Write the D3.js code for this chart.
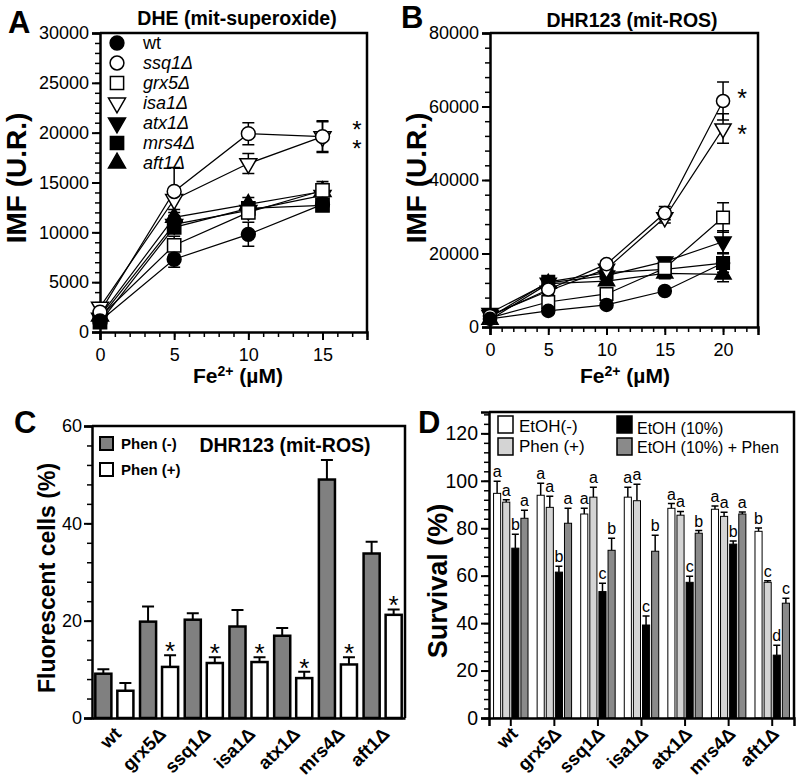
<!DOCTYPE html>
<html><head><meta charset="utf-8">
<script src="https://cdn.jsdelivr.net/npm/d3@7"></script>
<style>body{margin:0;background:#fff}svg{display:block}</style>
</head><body><svg id="c" width="797" height="779"></svg>
<script>
// ---------- DATA ----------
const strainsA = ["wt","ssq1Δ","grx5Δ","isa1Δ","atx1Δ","mrs4Δ","aft1Δ"];
// Panel A: DHE (mit-superoxide), Fe2+ (µM)
const feA = [0,5,10,15];
const dheWt   = [1100, 7300, 9800, 12800];
const dheSsq1 = [2000, 14100, 19900, 19600];
const dheGrx5 = [1500, 8700, 12000, 14200];
const dheIsa1 = [2500, 13300, 16900, 19600];
const dheAtx1 = [1400, 10800, 12200, 13700];
const dheMrs4 = [1000, 10500, 12400, 12700];
const dheAft1 = [1600, 11500, 12800, 14100];
const dheWtErr   = [300, 800, 1200, 500];
const dheSsq1Err = [400, 2400, 1100, 1600];
const dheGrx5Err = [300, 900, 600, 900];
const dheIsa1Err = [400, 1000, 1000, 1500];
const dheAtx1Err = [300, 700, 600, 700];
const dheMrs4Err = [300, 600, 500, 400];
const dheAft1Err = [300, 500, 700, 800];
const yTicksA = [0,5000,10000,15000,20000,25000,30000];
const xTicksA = [0,5,10,15];

// Panel B: DHR123 (mit-ROS)
const feB = [0,5,10,15,20];
const dhrWt   = [2200, 4400, 6000, 9800, 17400];
const dhrSsq1 = [3000, 10200, 17100, 31000, 61500];
const dhrGrx5 = [2500, 6800, 9000, 16000, 29800];
const dhrIsa1 = [3200, 9800, 15800, 29800, 54000];
const dhrAtx1 = [3800, 12000, 14000, 17800, 23200];
const dhrMrs4 = [2600, 12300, 14800, 15700, 17400];
const dhrAft1 = [2000, 11800, 12500, 14600, 14300];
const dhrWtErr   = [400, 500, 600, 700, 1500];
const dhrSsq1Err = [600, 900, 1000, 1800, 5200];
const dhrGrx5Err = [500, 1200, 1500, 1500, 4000];
const dhrIsa1Err = [600, 900, 1000, 1500, 4000];
const dhrAtx1Err = [500, 800, 1000, 1200, 3000];
const dhrMrs4Err = [500, 900, 1000, 1200, 2500];
const dhrAft1Err = [400, 800, 1000, 1500, 2000];
const yTicksB = [0,20000,40000,60000,80000];
const xTicksB = [0,5,10,15,20];

// Panel C: fluorescent cells (%)
const strainsC = ["wt","grx5Δ","ssq1Δ","isa1Δ","atx1Δ","mrs4Δ","aft1Δ"];
const phenMinus    = [9.1, 19.8, 20.2, 18.8, 16.9, 49.0, 33.8];
const phenMinusErr = [0.9, 3.1, 1.3, 3.4, 1.6, 4.0, 2.4];
const phenPlus     = [5.6, 10.5, 11.3, 11.5, 8.2, 11.0, 21.2];
const phenPlusErr  = [1.6, 2.4, 1.2, 1.0, 1.3, 1.5, 1.1];
const phenPlusSig  = [false, true, true, true, true, true, true];
const yTicksC = [0,20,40,60];

// Panel D: survival (%)
const etohNeg      = [94.7, 93.9, 86.0, 93.1, 88.4, 88.0, 78.7];
const etohNegErr   = [5.1, 5.1, 2.4, 4.2, 2.0, 1.4, 1.4];
const etohNegLet   = ["a","a","a","a","a","a","b"];
const phenPos      = [91.0, 88.8, 93.1, 91.6, 85.5, 85.0, 57.2];
const phenPosErr   = [1.0, 4.7, 4.2, 6.9, 1.6, 1.7, 0.7];
const phenPosLet   = ["a","a","a","a","a","a","c"];
const etoh10       = [71.6, 61.5, 53.3, 39.2, 57.2, 73.3, 26.5];
const etoh10Err    = [5.9, 2.5, 3.5, 3.8, 2.6, 1.3, 4.2];
const etoh10Let    = ["b","b","c","c","c","b","d"];
const etohPhen     = [84.2, 82.1, 70.7, 70.3, 77.9, 86.0, 48.4];
const etohPhenErr  = [3.4, 6.3, 5.1, 6.7, 1.1, 0.8, 2.1];
const etohPhenLet  = ["a","a","b","b","b","a","c"];
const yTicksD = [0,20,40,60,80,100,120];

// ---------- DRAWING ----------
const FONT = '"Liberation Sans", Arial, Helvetica, sans-serif';
const svg = d3.select("#c").style("font-family", FONT);

function styleAxis(g, fs, sw) {
  g.select(".domain").attr("stroke","#000").attr("stroke-width",2.5);
  g.selectAll(".tick line").attr("stroke","#000").attr("stroke-width", sw||2);
  g.selectAll(".tick text").attr("font-size",fs).attr("font-family",FONT).attr("fill","#000");
}
function frame(x0,x1,y0,y1){
  svg.append("path").attr("d",`M${x0},${y0}H${x1}V${y1}`)
    .attr("fill","none").attr("stroke","#000").attr("stroke-width",2.5);
}
function txt(x,y,s,fs,opts){
  opts=opts||{};
  const t=svg.append("text").attr("x",x).attr("y",y).attr("font-size",fs)
    .attr("font-weight",opts.bold?"bold":"normal").attr("fill","#000")
    .attr("text-anchor",opts.anchor||"start").text(s);
  if(opts.italic) t.attr("font-style","italic");
  if(opts.rot!==undefined) t.attr("transform",`rotate(${opts.rot},${x},${y})`);
  return t;
}
function feLabel(cx,y){
  const t=svg.append("text").attr("x",cx).attr("y",y).attr("font-size",21)
    .attr("font-weight","bold").attr("text-anchor","middle").attr("fill","#000");
  t.append("tspan").text("Fe");
  t.append("tspan").attr("dy",-7).attr("font-size",14).text("2+");
  t.append("tspan").attr("dy",7).text(" (µM)");
}
function stars(x,y1,y2,fs){
  const t=svg.append("text").attr("font-size",fs).attr("text-anchor","middle").attr("fill","#000");
  t.append("tspan").attr("x",x).attr("y",y1).text("*");
  t.append("tspan").attr("x",x).attr("y",y2).text("*");
}

const markerDefs = [
  {type:d3.symbolCircle,   fill:"#000", rot:0},
  {type:d3.symbolCircle,   fill:"#fff", rot:0},
  {type:d3.symbolSquare,   fill:"#fff", rot:0},
  {type:d3.symbolTriangle, fill:"#fff", rot:180},
  {type:d3.symbolTriangle, fill:"#000", rot:180},
  {type:d3.symbolSquare,   fill:"#000", rot:0},
  {type:d3.symbolTriangle, fill:"#000", rot:0}
];
function symSize(type, k){
  if(type===d3.symbolCircle) return 150*k;
  if(type===d3.symbolSquare) return 175*k;
  return 125*k;
}
function marker(x,y,m,k){
  svg.append("path").attr("d", d3.symbol().type(m.type).size(symSize(m.type,k))())
    .attr("transform",`translate(${x},${y}) rotate(${m.rot})`)
    .attr("fill",m.fill).attr("stroke","#000").attr("stroke-width",1.5);
}

function linePanel(cfg){
  const x=d3.scaleLinear().domain([0,cfg.xmax]).range([cfg.left,cfg.right]);
  const y=d3.scaleLinear().domain([0,cfg.ymax]).range([cfg.bottom,cfg.top]);
  svg.append("g").attr("transform",`translate(${cfg.left},0)`)
    .call(d3.axisLeft(y).tickValues(d3.range(0,cfg.ymax+1,cfg.yMinor)).tickSize(5).tickFormat(""))
    .call(g=>{g.select(".domain").remove();g.selectAll("line").attr("stroke","#000").attr("stroke-width",1.5);});
  svg.append("g").attr("transform",`translate(0,${cfg.bottom})`)
    .call(d3.axisBottom(x).tickValues(d3.range(0,cfg.xmax+0.01,1)).tickSize(5).tickFormat(""))
    .call(g=>{g.select(".domain").remove();g.selectAll("line").attr("stroke","#000").attr("stroke-width",1.5);});
  svg.append("g").attr("transform",`translate(${cfg.left},0)`)
    .call(d3.axisLeft(y).tickValues(cfg.yTicks).tickSize(8).tickPadding(3).tickFormat(d3.format("d")))
    .call(g=>styleAxis(g,18));
  svg.append("g").attr("transform",`translate(0,${cfg.bottom})`)
    .call(d3.axisBottom(x).tickValues(cfg.xTicks).tickSize(8).tickPadding(8).tickFormat(d3.format("d")))
    .call(g=>styleAxis(g,18));
  frame(cfg.left,cfg.right,cfg.top,cfg.bottom);
  const line=d3.line().x(d=>x(d[0])).y(d=>y(d[1]));
  cfg.series.forEach(s=>{
    svg.append("path").attr("d",line(cfg.xs.map((v,i)=>[v,s.v[i]])))
      .attr("fill","none").attr("stroke","#000").attr("stroke-width",1.2);
  });
  cfg.series.forEach(s=>{
    cfg.xs.forEach((v,i)=>{
      const cx=x(v), y1=y(s.v[i]+s.e[i]), y0=y(s.v[i]-s.e[i]);
      svg.append("path").attr("d",`M${cx},${y0}V${y1}M${cx-6},${y1}H${cx+6}M${cx-6},${y0}H${cx+6}`)
        .attr("stroke","#000").attr("stroke-width",1.5).attr("fill","none");
    });
  });
  cfg.series.slice().reverse().forEach(s=>{
    cfg.xs.forEach((v,i)=>marker(x(v),y(s.v[i]),s.m,cfg.k));
  });
  return {x,y};
}

// Panel A
linePanel({left:100,right:367,top:33,bottom:332,xmax:18,ymax:30000,yMinor:1000,
  yTicks:yTicksA,xTicks:xTicksA,xs:feA,k:1,
  series:[
    {v:dheWt,e:dheWtErr,m:markerDefs[0]},
    {v:dheSsq1,e:dheSsq1Err,m:markerDefs[1]},
    {v:dheGrx5,e:dheGrx5Err,m:markerDefs[2]},
    {v:dheIsa1,e:dheIsa1Err,m:markerDefs[3]},
    {v:dheAtx1,e:dheAtx1Err,m:markerDefs[4]},
    {v:dheMrs4,e:dheMrs4Err,m:markerDefs[5]},
    {v:dheAft1,e:dheAft1Err,m:markerDefs[6]}]});
txt(8,33,"A",31,{bold:true});
txt(237,25,"DHE (mit-superoxide)",19.5,{bold:true,anchor:"middle"});
txt(26,178,"IMF (U.R.)",28,{bold:true,anchor:"middle",rot:-90});
feLabel(238,383);
strainsA.forEach((s,i)=>{
  const yy=43+i*20;
  marker(117,yy,markerDefs[i],1);
  txt(143,yy+6,s,18,{italic:i>0});
});
stars(357,138,157,24);

// Panel B
linePanel({left:490,right:758,top:33,bottom:327,xmax:23,ymax:80000,yMinor:4000,
  yTicks:yTicksB,xTicks:xTicksB,xs:feB,k:0.9,
  series:[
    {v:dhrWt,e:dhrWtErr,m:markerDefs[0]},
    {v:dhrSsq1,e:dhrSsq1Err,m:markerDefs[1]},
    {v:dhrGrx5,e:dhrGrx5Err,m:markerDefs[2]},
    {v:dhrIsa1,e:dhrIsa1Err,m:markerDefs[3]},
    {v:dhrAtx1,e:dhrAtx1Err,m:markerDefs[4]},
    {v:dhrMrs4,e:dhrMrs4Err,m:markerDefs[5]},
    {v:dhrAft1,e:dhrAft1Err,m:markerDefs[6]}]});
txt(401,28,"B",31,{bold:true});
txt(632,27,"DHR123 (mit-ROS)",19.5,{bold:true,anchor:"middle"});
txt(426,178,"IMF (U.R.)",28,{bold:true,anchor:"middle",rot:-90});
feLabel(625,383);
txt(742,107,"*",25,{anchor:"middle"});
txt(742,143,"*",25,{anchor:"middle"});

// Panel C
(function(){
  const L=92,R=405,T=426,B=718;
  const x0=d3.scaleBand().domain(strainsC).range([L,R]).padding(0);
  const x1=d3.scaleBand().domain(["m","p"]).range([0,x0.bandwidth()]).paddingInner(0.27).paddingOuter(0.15);
  const y=d3.scaleLinear().domain([0,60]).range([B,T]);
  svg.append("g").attr("transform",`translate(${L},0)`)
    .call(d3.axisLeft(y).tickValues(d3.range(0,61,4)).tickSize(5).tickFormat(""))
    .call(g=>{g.select(".domain").remove();g.selectAll("line").attr("stroke","#000").attr("stroke-width",1.5);});
  svg.append("g").attr("transform",`translate(${L},0)`)
    .call(d3.axisLeft(y).tickValues(yTicksC).tickSize(8).tickPadding(2))
    .call(g=>styleAxis(g,18));
  frame(L,R,T,B);
  const groups=[{k:"m",v:phenMinus,e:phenMinusErr,fill:"#808080"},{k:"p",v:phenPlus,e:phenPlusErr,fill:"#fff"}];
  groups.forEach(gr=>{
    strainsC.forEach((s,i)=>{
      const bx=x0(s)+x1(gr.k), bw=x1.bandwidth(), cx=bx+bw/2;
      const et=y(gr.v[i]+gr.e[i]);
      svg.append("path").attr("d",`M${cx},${y(gr.v[i])}V${et}M${cx-6},${et}H${cx+6}`)
        .attr("stroke","#000").attr("stroke-width",2).attr("fill","none");
      svg.append("rect").attr("x",bx).attr("y",y(gr.v[i])).attr("width",bw).attr("height",B-y(gr.v[i]))
        .attr("fill",gr.fill).attr("stroke","#000").attr("stroke-width",2.5);
      if(gr.k==="p" && phenPlusSig[i]) txt(cx,et+5,"*",26,{anchor:"middle"});
    });
  });
  svg.append("g").attr("transform",`translate(0,${B})`)
    .call(d3.axisBottom(x0).tickSize(0).tickFormat(""))
    .call(g=>g.select(".domain").attr("stroke","#000").attr("stroke-width",2.5));
  strainsC.forEach(s=>{
    const cx=x0(s)+x0.bandwidth()/2;
    txt(cx+8,735,s,18.5,{bold:true,anchor:"end",rot:-45});
  });
  svg.append("rect").attr("x",100).attr("y",437).attr("width",13).attr("height",13).attr("fill","#808080").attr("stroke","#000").attr("stroke-width",2);
  svg.append("rect").attr("x",100).attr("y",463).attr("width",13).attr("height",13).attr("fill","#fff").attr("stroke","#000").attr("stroke-width",2);
  txt(121,449,"Phen (-)",15,{bold:true});
  txt(121,475,"Phen (+)",15,{bold:true});
  txt(285,452,"DHR123 (mit-ROS)",19.5,{bold:true,anchor:"middle"});
  txt(14,433,"C",31,{bold:true});
  txt(55,578,"Fluorescent cells (%)",23,{bold:true,anchor:"middle",rot:-90});
})();

// Panel D
(function(){
  const L=489,R=794,T=412,B=718;
  const x0=d3.scaleBand().domain(strainsC).range([L,R]).padding(0);
  const keys=["n","p","e","ep"];
  const x1=d3.scaleBand().domain(keys).range([0,x0.bandwidth()]).paddingInner(0.22).paddingOuter(0.5);
  const y=d3.scaleLinear().domain([0,129]).range([B,T]);
  svg.append("g").attr("transform",`translate(${L},0)`)
    .call(d3.axisLeft(y).tickValues(d3.range(0,129,4)).tickSize(5).tickFormat(""))
    .call(g=>{g.select(".domain").remove();g.selectAll("line").attr("stroke","#000").attr("stroke-width",1.5);});
  svg.append("g").attr("transform",`translate(${L},0)`)
    .call(d3.axisLeft(y).tickValues(yTicksD).tickSize(8).tickPadding(3))
    .call(g=>styleAxis(g,19.5));
  frame(L,R,T,B);
  const groups=[
    {k:"n",v:etohNeg,e:etohNegErr,l:etohNegLet,fill:"#fff"},
    {k:"p",v:phenPos,e:phenPosErr,l:phenPosLet,fill:"#d4d4d4"},
    {k:"e",v:etoh10,e:etoh10Err,l:etoh10Let,fill:"#000"},
    {k:"ep",v:etohPhen,e:etohPhenErr,l:etohPhenLet,fill:"#8a8a8a"}];
  groups.forEach(gr=>{
    strainsC.forEach((s,i)=>{
      const bx=x0(s)+x1(gr.k), bw=x1.bandwidth(), cx=bx+bw/2;
      const et=y(gr.v[i]+gr.e[i]);
      svg.append("path").attr("d",`M${cx},${y(gr.v[i])}V${et}M${cx-3.5},${et}H${cx+3.5}`)
        .attr("stroke","#000").attr("stroke-width",1.5).attr("fill","none");
      svg.append("rect").attr("x",bx).attr("y",y(gr.v[i])).attr("width",bw).attr("height",B-y(gr.v[i]))
        .attr("fill",gr.fill).attr("stroke","#000").attr("stroke-width",1);
      txt(cx,et-4,gr.l[i],16,{anchor:"middle"});
    });
  });
  svg.append("g").attr("transform",`translate(0,${B})`)
    .call(d3.axisBottom(x0).tickSize(8).tickFormat(""))
    .call(g=>styleAxis(g,18,2));
  strainsC.forEach(s=>{
    const cx=x0(s)+x0.bandwidth()/2;
    txt(cx+8,735,s,18.5,{bold:true,anchor:"end",rot:-45});
  });
  const leg=[[498,416,"#fff","EtOH(-)",519,432,17],[498,438,"#d4d4d4","Phen (+)",519,452,17],
             [617,416,"#000","EtOH (10%)",637,434,16],[617,438,"#8a8a8a","EtOH (10%) + Phen",637,453,16]];
  leg.forEach(l=>{
    svg.append("rect").attr("x",l[0]).attr("y",l[1]).attr("width",15).attr("height",17)
      .attr("fill",l[2]).attr("stroke","#000").attr("stroke-width",1.5);
    txt(l[4],l[5],l[3],l[6]);
  });
  txt(418,433,"D",31,{bold:true});
  txt(447,581,"Survival (%)",27,{bold:true,anchor:"middle",rot:-90});
})();
</script></body></html>
